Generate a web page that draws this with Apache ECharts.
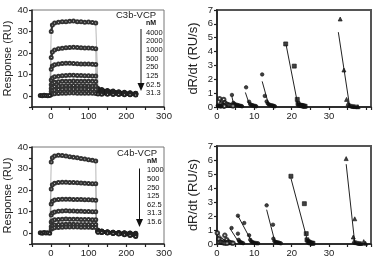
<!DOCTYPE html>
<html>
<head>
<meta charset="utf-8">
<script src="https://cdn.jsdelivr.net/npm/echarts@6/dist/echarts.min.js"></script>
<style>html,body{margin:0;padding:0;background:#fff}#chart{width:374px;height:264px}</style>
</head>
<body>
<div id="chart"></div>
<script>
var chart = echarts.init(document.getElementById('chart'));
var FONT = 'Liberation Sans, Arial, sans-serif';

// sensorgram time points (s)
var tBase = [-28, -23, -18, -13, -8, -3];
var tAssoc = [1, 4, 10, 20, 30, 40, 50, 60, 70, 80, 90, 100, 110, 119];
var tDiss = [121, 125, 135, 150, 165, 180, 195, 210, 225];

// C3b-VCP, response (RU)
var c3bConc = ['4000', '2000', '1000', '500', '250', '125', '62.5', '31.3'];
var c3bBase = [0.3, 0.2, 0.4, 0.3, 0.2, 0.3];
var c3bAssoc = [
  [30, 33, 34, 34.3, 34.6, 34.5, 34.8, 34.9, 34.6, 34.5, 34.3, 34.4, 34.2, 34.0],
  [18, 20.5, 21.5, 22, 22.3, 22.5, 22.6, 22.7, 22.6, 22.5, 22.4, 22.4, 22.2, 22.0],
  [12.5, 14, 14.6, 15, 15.2, 15.3, 15.3, 15.2, 15.1, 15.0, 14.9, 14.9, 14.8, 14.7],
  [7.5, 8.5, 9.0, 9.3, 9.5, 9.6, 9.7, 9.7, 9.6, 9.6, 9.5, 9.5, 9.4, 9.4],
  [5.3, 6.0, 6.5, 6.7, 6.9, 7.0, 7.0, 7.1, 7.0, 7.0, 7.0, 6.9, 6.9, 6.8],
  [3.6, 4.1, 4.5, 4.7, 4.8, 4.9, 4.9, 5.0, 4.9, 4.9, 4.9, 4.8, 4.8, 4.8],
  [2.2, 2.6, 2.9, 3.1, 3.2, 3.3, 3.3, 3.4, 3.3, 3.3, 3.3, 3.2, 3.2, 3.2],
  [0.8, 1.0, 1.2, 1.3, 1.4, 1.4, 1.5, 1.5, 1.4, 1.4, 1.4, 1.4, 1.4, 1.3]
];
var c3bDiss = [
  [24, 3.6, 3.1, 2.7, 2.4, 2.1, 1.8, 1.6, 1.4],
  [4.5, 3.2, 2.8, 2.4, 2.1, 1.9, 1.7, 1.5, 1.3],
  [3.5, 2.8, 2.5, 2.2, 1.9, 1.7, 1.5, 1.3, 1.2],
  [2.8, 2.4, 2.2, 1.9, 1.7, 1.5, 1.3, 1.2, 1.1],
  [2.4, 2.1, 1.9, 1.7, 1.5, 1.3, 1.2, 1.1, 1.0],
  [2.0, 1.8, 1.6, 1.4, 1.3, 1.2, 1.1, 1.0, 0.9],
  [1.6, 1.5, 1.3, 1.2, 1.1, 1.0, 0.9, 0.9, 0.8],
  [1.0, 1.0, 0.9, 0.9, 0.8, 0.8, 0.7, 0.7, 0.6]
];

// C4b-VCP, response (RU)
var c4bConc = ['1000', '500', '250', '125', '62.5', '31.3', '15.6'];
var c4bBase = [0.2, 0.0, 0.3, 0.1, 0.2, 0.0];
var c4bAssoc = [
  [33, 35, 35.8, 36.2, 36.0, 35.8, 35.5, 35.2, 35.0, 34.7, 34.4, 34.1, 33.8, 33.5],
  [20.5, 22.5, 23.2, 23.5, 23.6, 23.6, 23.5, 23.5, 23.4, 23.3, 23.2, 23.1, 23.0, 22.9],
  [13.5, 14.8, 15.4, 15.7, 15.8, 15.8, 15.8, 15.7, 15.6, 15.6, 15.5, 15.5, 15.4, 15.3],
  [8.5, 9.4, 9.9, 10.2, 10.3, 10.4, 10.3, 10.3, 10.2, 10.2, 10.1, 10.1, 10.0, 10.0],
  [5.2, 5.8, 6.2, 6.4, 6.5, 6.6, 6.5, 6.5, 6.5, 6.4, 6.4, 6.4, 6.3, 6.3],
  [3.0, 3.5, 3.8, 4.0, 4.1, 4.2, 4.2, 4.2, 4.1, 4.1, 4.1, 4.0, 4.0, 4.0],
  [1.8, 2.2, 2.5, 2.7, 2.8, 2.9, 2.9, 2.9, 2.9, 2.8, 2.8, 2.8, 2.7, 2.7]
];
var c4bDiss = [
  [3.5, 1.4, 1.0, 0.7, 0.5, 0.3, 0.2, 0.1, 0.0],
  [2.5, 1.2, 0.9, 0.6, 0.4, 0.2, 0.1, 0.0, -0.2],
  [1.8, 1.0, 0.8, 0.5, 0.3, 0.1, 0.0, -0.2, -0.4],
  [1.4, 0.9, 0.6, 0.4, 0.2, 0.0, -0.2, -0.4, -0.6],
  [1.1, 0.8, 0.5, 0.3, 0.1, -0.1, -0.3, -0.6, -0.9],
  [0.9, 0.6, 0.4, 0.2, 0.0, -0.3, -0.5, -0.8, -1.2],
  [0.7, 0.5, 0.3, 0.1, -0.1, -0.4, -0.7, -1.0, -1.5]
];

// dR/dt vs R, points [R, dR/dt] and fitted lines
var c3bRate = [
  [[33.0, 6.35], [34.0, 2.67], [34.7, 0.55], [35.1, 0.25], [35.4, 0.15], [35.7, 0.1], [36.1, 0.08], [36.4, 0.05], [36.7, 0.05], [37.0, 0.03], [37.5, 0.03], [37.8, 0.02]],
  [[18.4, 4.55], [20.7, 2.95], [21.5, 0.55], [21.7, 0.25], [22.0, 0.15], [22.4, 0.12], [22.7, 0.1], [23.0, 0.08], [23.3, 0.06], [23.6, 0.05]],
  [[12.1, 2.35], [12.8, 0.8], [13.3, 0.4], [13.6, 0.25], [13.9, 0.18], [14.2, 0.15], [14.6, 0.12], [14.9, 0.1], [15.2, 0.08], [15.5, 0.05]],
  [[7.8, 1.42], [8.6, 0.38], [8.9, 0.2], [9.2, 0.15], [9.5, 0.12], [9.8, 0.1], [10.2, 0.08], [10.5, 0.05]],
  [[4.0, 0.87], [4.4, 0.3], [4.7, 0.2], [5.0, 0.18], [5.4, 0.15], [5.7, 0.12], [6.0, 0.1], [6.4, 0.08], [6.7, 0.05]],
  [[1.8, 0.55], [2.1, 0.3], [2.6, 0.2], [3.0, 0.15], [3.4, 0.12], [3.9, 0.1], [4.3, 0.08]],
  [[0.7, 0.6], [1.1, 0.25], [1.4, 0.12], [1.7, 0.08], [2.0, 0.06]],
  [[0.2, 0.1], [0.4, 0.08], [0.6, 0.06], [0.9, 0.05], [1.1, 0.04]]
];
var c3bFit = [
  [[32.5, 5.4], [35.5, 0.1]],
  [[18.5, 4.5], [21.7, 0.1]],
  [[12.1, 1.85], [13.8, 0.2]],
  [[7.6, 1.05], [8.6, 0.25]],
  [[4.0, 0.75], [4.4, 0.25]],
  [[1.8, 0.5], [2.4, 0.15]],
  [[0.7, 0.55], [1.3, 0.15]]
];
var c4bRate = [
  [[34.6, 6.1], [36.9, 1.8], [36.5, 0.5], [36.7, 0.2], [37.0, 0.12], [37.3, 0.1], [37.7, 0.08], [38.0, 0.06], [38.3, 0.05], [38.6, 0.04], [39.3, 0.17], [39.8, 0.05]],
  [[19.8, 4.84], [23.4, 2.88], [23.9, 0.74], [24.1, 0.3], [24.4, 0.18], [24.7, 0.12], [25.0, 0.08], [25.4, 0.06], [25.7, 0.05]],
  [[13.3, 2.76], [15.0, 1.38], [15.1, 0.38], [15.4, 0.2], [15.7, 0.15], [16.1, 0.12], [16.4, 0.1], [16.7, 0.08], [17.1, 0.05]],
  [[5.6, 2.02], [7.3, 1.5], [8.6, 0.62], [8.9, 0.3], [9.2, 0.18], [9.5, 0.12], [9.8, 0.1], [10.2, 0.08], [10.6, 0.06], [11.0, 0.05]],
  [[3.9, 1.14], [5.6, 0.74], [5.8, 0.3], [6.0, 0.18], [6.3, 0.12], [6.6, 0.1], [7.0, 0.06]],
  [[2.1, 0.62], [2.6, 0.3], [3.0, 0.15], [3.4, 0.1], [3.9, 0.08], [4.3, 0.06]],
  [[0.1, 0.79], [0.5, 0.35], [1.0, 0.15], [1.4, 0.1], [1.8, 0.08], [2.2, 0.06], [2.7, 0.05]]
];
var c4bFit = [
  [[34.6, 5.7], [36.9, 0.07]],
  [[19.8, 4.7], [24.4, 0.07]],
  [[13.3, 2.45], [15.6, 0.07]],
  [[5.6, 2.02], [9.5, 0.07]],
  [[3.5, 1.1], [5.8, 0.14]],
  [[0.1, 0.6], [3.2, 0.07]],
  [[0.1, 0.79], [2.7, 0.07]]
];
var rateSymbols = ['triangle', 'rect', 'circle', 'circle', 'circle', 'emptyCircle', 'emptyCircle', 'circle'];

function pairs(ts, vs) {
  return ts.map(function (t, i) { return [t, vs[i]]; });
}

var series = [];

function addSensorgram(idx, base, assoc, diss) {
  var basePts = pairs(tBase, base);
  assoc.forEach(function (a, k) {
    var aPts = pairs(tAssoc, a);
    var dPts = pairs(tDiss, diss[k]);
    // thin connecting trace
    series.push({
      type: 'line', xAxisIndex: idx, yAxisIndex: idx, silent: true, z: 1,
      data: [basePts[basePts.length - 1]].concat(aPts, dPts),
      symbol: 'none', lineStyle: { color: '#999', width: 0.7 }
    });
    series.push({
      type: 'line', xAxisIndex: idx, yAxisIndex: idx, silent: true, z: 2,
      data: aPts, symbol: 'emptyCircle', symbolSize: 3,
      itemStyle: { color: '#333', borderWidth: 0.8 },
      lineStyle: { color: '#333', width: 2.2 }
    });
    series.push({
      type: 'line', xAxisIndex: idx, yAxisIndex: idx, silent: true, z: 2,
      data: dPts.slice(1), symbol: 'emptyCircle', symbolSize: 3,
      itemStyle: { color: '#222', borderWidth: 0.8 },
      lineStyle: { color: '#1a1a1a', width: 2.4 }
    });
  });
  series.push({
    type: 'line', xAxisIndex: idx, yAxisIndex: idx, silent: true, z: 2,
    data: basePts, symbol: 'emptyCircle', symbolSize: 3,
    itemStyle: { color: '#222' }, lineStyle: { color: '#111', width: 3.5 }
  });
}

function addRates(idx, rates, fits) {
  rates.forEach(function (pts, k) {
    series.push({
      type: 'scatter', xAxisIndex: idx, yAxisIndex: idx, silent: true, z: 3,
      data: pts, symbol: rateSymbols[k], symbolSize: k < 2 ? 4 : 3.5,
      itemStyle: { color: '#111', borderColor: '#111', borderWidth: 0.8 }
    });
  });
  fits.forEach(function (f) {
    series.push({
      type: 'line', xAxisIndex: idx, yAxisIndex: idx, silent: true, z: 2,
      data: f, symbol: 'none', lineStyle: { color: '#222', width: 1 }
    });
  });
}

addSensorgram(0, c3bBase, c3bAssoc, c3bDiss);
addRates(1, c3bRate, c3bFit);
addSensorgram(2, c4bBase, c4bAssoc, c4bDiss);
addRates(3, c4bRate, c4bFit);

var labelStyle = { color: '#222', fontSize: 9.5, fontFamily: FONT, margin: 4 };
var axisLine = { show: true, onZero: false, lineStyle: { color: '#222', width: 1.5 } };
var axisTick = { show: true, length: 3, lineStyle: { color: '#222', width: 1.2 } };

function leftX(g) {
  return {
    type: 'value', gridIndex: g, min: -50, max: 300, interval: 50,
    axisLine: axisLine, axisTick: axisTick, splitLine: { show: false },
    axisLabel: Object.assign({}, labelStyle, {
      formatter: function (v) { return (v >= 0 && v % 100 === 0) ? v : ''; }
    })
  };
}
function rightX(g) {
  return {
    type: 'value', gridIndex: g, min: 0, max: 41.25, interval: 5,
    axisLine: axisLine, axisTick: axisTick, splitLine: { show: false },
    axisLabel: Object.assign({}, labelStyle, {
      formatter: function (v) { return (v % 10 === 0 && v < 40) ? v : ''; }
    })
  };
}
function leftY(g) {
  return {
    type: 'value', gridIndex: g, min: -5, max: 40, interval: 5,
    name: 'Response (RU)', nameLocation: 'middle', nameGap: 18,
    nameTextStyle: { color: '#222', fontSize: 11, fontFamily: FONT },
    axisLine: axisLine, axisTick: axisTick, splitLine: { show: false },
    axisLabel: Object.assign({}, labelStyle, {
      formatter: function (v) { return v % 10 === 0 ? v : ''; }
    })
  };
}
function rightY(g) {
  return {
    type: 'value', gridIndex: g, min: 0, max: 7, interval: 1,
    name: 'dR/dt (RU/s)', nameLocation: 'middle', nameGap: 17,
    nameTextStyle: { color: '#222', fontSize: 13, fontFamily: FONT },
    axisLine: axisLine, axisTick: axisTick, splitLine: { show: false },
    axisLabel: labelStyle
  };
}

function concLabels(title, concs, x0, yTitle, yUnit, yFirst, step, arrowX, arrowTop, arrowTip) {
  var els = [
    { type: 'text', left: x0 - 30, top: yTitle - 5, style: { text: title, fill: '#222', font: '9.5px ' + FONT } },
    { type: 'text', left: x0, top: yUnit - 4, style: { text: 'nM', fill: '#111', font: 'bold 7px ' + FONT } }
  ];
  concs.forEach(function (c, i) {
    els.push({ type: 'text', left: x0, top: yFirst + step * i - 4, style: { text: c, fill: '#111', font: '7.5px ' + FONT } });
  });
  els.push({ type: 'line', shape: { x1: arrowX, y1: arrowTop, x2: arrowX, y2: arrowTip - 6 }, style: { stroke: '#111', lineWidth: 1 } });
  els.push({ type: 'polygon', shape: { points: [[arrowX - 3.5, arrowTip - 8], [arrowX + 3.5, arrowTip - 8], [arrowX, arrowTip]] }, style: { fill: '#111' } });
  return els;
}

var option = {
  backgroundColor: '#fff',
  animation: false,
  grid: [
    { left: 32, top: 10, width: 132, height: 97, show: true, borderColor: '#777', borderWidth: 1 },
    { left: 217, top: 10, width: 158, height: 97, show: true, borderColor: '#555', borderWidth: 2 },
    { left: 32, top: 147, width: 132, height: 97, show: true, borderColor: '#777', borderWidth: 1 },
    { left: 217, top: 146, width: 158, height: 98, show: true, borderColor: '#555', borderWidth: 2 }
  ],
  xAxis: [leftX(0), rightX(1), leftX(2), rightX(3)],
  yAxis: [leftY(0), rightY(1), leftY(2), rightY(3)],
  graphic: concLabels('C3b-VCP', c3bConc, 146, 15, 24, 32.7, 8.65, 141, 29, 91)
    .concat(concLabels('C4b-VCP', c4bConc, 147, 153.5, 162, 170.3, 8.6, 139.5, 168.5, 227)),
  series: series
};

chart.setOption(option);
</script>
</body>
</html>
